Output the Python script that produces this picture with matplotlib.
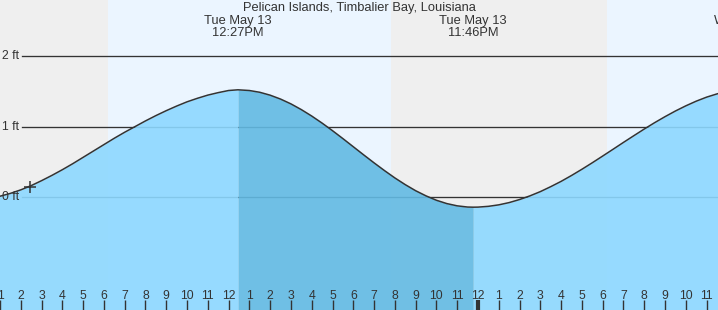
import matplotlib
matplotlib.use("Agg")
from matplotlib import pyplot as plt
import matplotlib.transforms as mtransforms
import numpy as np

station = "Pelican Islands, Timbalier Bay, Louisiana"
hours = [0, 0.5, 1, 1.5, 2, 2.5, 3, 3.5, 4, 4.5, 5, 5.5, 6, 6.5, 7, 7.5, 8, 8.5,
         9, 9.5, 10, 10.5, 11, 11.5, 12, 12.45,
         13, 13.5, 14, 14.5, 15, 15.5, 16, 16.5, 17, 17.5, 18, 18.5, 19, 19.5,
         20, 20.5, 21, 21.5, 22, 22.5, 23, 23.5, 23.77,
         24, 24.5, 25, 25.5, 26, 26.5, 27, 27.5, 28, 28.5, 29, 29.5, 30, 30.5,
         31, 31.5, 32, 32.5, 33, 33.5, 34, 34.5, 35, 35.5, 36]
heights = [-0.050, -0.020, 0.015, 0.055, 0.105, 0.165, 0.235, 0.310, 0.390, 0.475,
           0.565, 0.655, 0.745, 0.835, 0.920, 1.000, 1.080, 1.155, 1.225, 1.290,
           1.350, 1.400, 1.445, 1.480, 1.510, 1.520,
           1.510, 1.485, 1.444, 1.389, 1.321, 1.240, 1.149, 1.049, 0.942, 0.830,
           0.715, 0.600, 0.487, 0.378, 0.274, 0.179, 0.093, 0.020, -0.042, -0.089,
           -0.121, -0.138, -0.140,
           -0.139, -0.128, -0.107, -0.075, -0.032, 0.020, 0.080, 0.150, 0.225, 0.308,
           0.396, 0.488, 0.583, 0.679, 0.776, 0.871, 0.965, 1.055, 1.140, 1.220,
           1.293, 1.359, 1.416, 1.462, 1.501]

tide_times = [12.45, 23.77, 37.1]
tide_days = ["Tue May 13", "Tue May 13", "Wed May 14"]
tide_clock = ["12:27PM", "11:46PM", ""]
hilite = (12.45, 23.77)          # between the two listed tides

night_spans = [(0, 6.2), (19.82, 30.2)]
day_spans = [(6.2, 19.82), (30.2, 40)]

tick_hours = list(range(1, 36))
tick_labels = [str((h - 1) % 12 + 1) for h in tick_hours]
midnight = 24
ft_levels = [0, 1, 2]
now_time, now_height = 2.44, 0.14

x_range = (1.0, 35.55)
y_range = (-1.594, 2.79)

plt.rcParams['font.family'] = ['Liberation Sans', 'DejaVu Sans']
txt = '#333333'

fig = plt.figure(figsize=(7.18, 3.10), dpi=100)
ax = fig.add_axes([0, 0, 1, 1])
ax.set_xlim(*x_range)
ax.set_ylim(*y_range)
ax.set_axisbelow(False)
for s in ax.spines.values():
    s.set_visible(False)

for a, b in night_spans:
    ax.axvspan(a, b, color='#efefef', lw=0, zorder=0)
for a, b in day_spans:
    ax.axvspan(a, b, color='#ebf5ff', lw=0, zorder=0)

# feet lines + labels
blend = mtransforms.blended_transform_factory(ax.transAxes, ax.transData)
for lv in ft_levels:
    ax.axhline(lv, xmin=22 / 718, color='#333333', lw=0.95, zorder=1)
    ax.text(2 / 718, lv, "%d ft" % lv, transform=blend, ha='left', va='center',
            fontsize=8.8, color=txt, zorder=2.4)

t = np.array(hours)
h = np.array(heights)
light = (141/255, 216/255, 1.0)
dark = (98/255, 186/255, 227/255)
ax.fill_between(t, h, y_range[0], where=(t <= hilite[0]), color=light, alpha=0.9, lw=0, zorder=2)
ax.fill_between(t, h, y_range[0], where=(t >= hilite[1]), color=light, alpha=0.9, lw=0, zorder=2)
ax.fill_between(t, h, y_range[0], where=(t >= hilite[0]) & (t <= hilite[1]), color=dark,
                alpha=0.9, lw=0, zorder=2)
ax.plot(t, h, color='#333333', lw=1.1, zorder=3, solid_joinstyle='round')

ax.plot([now_time], [now_height], marker='+', ms=8, mew=1.1, color='#333333', zorder=4)

# tide labels
top = mtransforms.blended_transform_factory(ax.transData, ax.transAxes)
for tt, d, c in zip(tide_times, tide_days, tide_clock):
    ax.text(tt, 1 - 21 / 310, d, transform=top, ha='center', va='center',
            fontsize=9.3, color=txt, zorder=5)
    if c:
        ax.text(tt, 1 - 32.5 / 310, c, transform=top, ha='center', va='center',
                fontsize=9.3, color=txt, zorder=5)
fig.text(0.5, 1 - 8 / 310, station, ha='center', va='center', fontsize=9.3, color=txt)

# hour ticks along the bottom, labels inside the plot
ax.set_yticks([])
ax.set_xticks(tick_hours)
ax.set_xticklabels(tick_labels)
ax.tick_params(axis='x', direction='in', length=7, width=1, color='#333333',
               pad=-14.5, labelsize=8.8, labelcolor=txt)
for tk, hr in zip(ax.xaxis.get_major_ticks(), tick_hours):
    if hr == midnight:
        tk.tick1line.set_markeredgewidth(3)

fig.savefig("out.png", dpi=100)
